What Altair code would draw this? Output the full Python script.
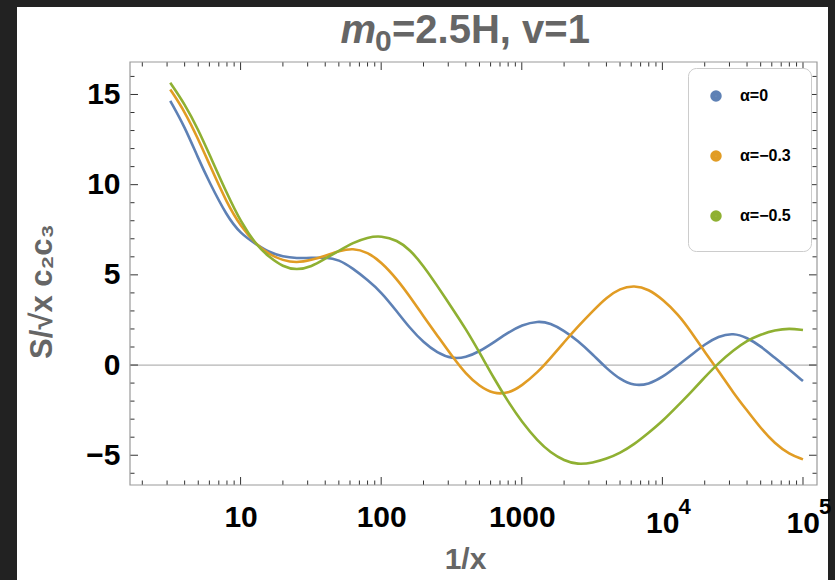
import altair as alt
import pandas as pd

# 1/x sample points and the three S / (sqrt(x) c2 c3) curves
inv_x = [3.16, 4, 5, 6, 8, 10, 13, 16, 20, 25, 32, 40, 50, 63, 80, 100, 130, 160,
         200, 250, 320, 400, 500, 630, 800, 1000, 1300, 1600, 2000, 2500, 3200,
         4000, 5000, 6300, 8000, 10000, 13000, 16000, 20000, 25000, 32000, 40000,
         50000, 63000, 80000, 100000]

alpha_0 = [14.65, 13.22, 11.45, 10.13, 8.25, 7.28, 6.68, 6.25, 6.0, 5.92, 5.94, 5.97,
           5.85, 5.35, 4.72, 4.05, 2.95, 2.05, 1.25, 0.68, 0.34, 0.42, 0.75, 1.25,
           1.8, 2.22, 2.45, 2.32, 1.9, 1.35, 0.58, -0.18, -0.8, -1.15, -1.07,
           -0.68, 0.0, 0.55, 1.15, 1.6, 1.78, 1.52, 1.05, 0.4, -0.25, -0.89]

alpha_m03 = [15.28, 14.07, 12.52, 11.13, 8.97, 7.7, 6.66, 6.12, 5.8, 5.66, 5.82,
             6.05, 6.32, 6.49, 6.25, 5.72, 4.75, 3.8, 2.7, 1.65, 0.48, -0.5, -1.18,
             -1.6, -1.58, -1.15, -0.4, 0.38, 1.27, 2.13, 3.0, 3.75, 4.25, 4.42,
             4.2, 3.65, 2.8, 1.85, 0.72, -0.3, -1.55, -2.52, -3.5, -4.35, -4.95,
             -5.23]

alpha_m05 = [15.65, 14.48, 13.05, 11.68, 9.5, 7.95, 6.62, 5.98, 5.45, 5.26, 5.45,
             5.9, 6.33, 6.78, 7.08, 7.17, 6.92, 6.4, 5.5, 4.4, 3.15, 2.0, 0.7,
             -0.7, -2.04, -3.15, -4.22, -4.85, -5.3, -5.52, -5.42, -5.2, -4.88,
             -4.4, -3.75, -3.12, -2.22, -1.5, -0.68, 0.1, 0.82, 1.35, 1.7, 1.93,
             2.04, 1.94]

series_names = ["α=0", "α=−0.3", "α=−0.5"]
series_colors = ["#5E81B5", "#E19C24", "#8FB032"]

# frame tick positions
y_major = [-5, 0, 5, 10, 15]
y_minor = [-6, -4, -3, -2, -1, 1, 2, 3, 4, 6, 7, 8, 9, 11, 12, 13, 14, 16]
x_major = [10, 100, 1000, 10000, 100000]
x_minor = [m * 10 ** e for e in range(0, 5) for m in range(2, 10)]

# power-of-ten labels written as base + exponent
pow_values = [10000, 100000]
pow_base = ["10", "10"]
pow_exp = ["4", "5"]

W, H = 687, 423
FONT = "Liberation Sans"
GRAY = "#666666"
TICK = "#333333"

rows = []
for name, vals in zip(series_names, [alpha_0, alpha_m03, alpha_m05]):
    for xv, yv in zip(inv_x, vals):
        rows.append({"inv_x": xv, "value": yv, "series": name})
curves = pd.DataFrame(rows)

one = pd.DataFrame({"k": [0]})
ymaj = pd.DataFrame({"value": y_major})
ymin = pd.DataFrame({"value": y_minor})
xmaj = pd.DataFrame({"inv_x": x_major})
xmin = pd.DataFrame({"inv_x": x_minor})
pows = pd.DataFrame({"inv_x": pow_values, "base": pow_base, "exp": pow_exp})

xscale = alt.Scale(type="log", domain=[1.635, 125800], nice=False)
yscale = alt.Scale(domain=[-6.65, 16.8], nice=False, zero=False)

x_axis = alt.Axis(
    values=x_major, format="d",
    labelExpr="datum.value >= 10000 ? '' : datum.label",
    labelFont=FONT, labelFontSize=30, labelFontWeight="bold", labelColor="black",
    labelPadding=17, labelFlush=False, labelOverlap=False,
    ticks=False, domain=False, grid=False,
    title="1/x", titleFont=FONT, titleFontSize=30, titleFontWeight="bold",
    titleColor=GRAY, titlePadding=12, titleX=335, zindex=1,
)
y_axis = alt.Axis(
    values=y_major,
    labelFont=FONT, labelFontSize=30, labelFontWeight="bold", labelColor="black",
    labelPadding=10, ticks=False, domain=False, grid=False,
    title="S/√x c₂c₃", titleFont=FONT, titleFontSize=31, titleFontWeight="bold",
    titleColor=GRAY, titlePadding=27, titleY=229, zindex=1,
)

panel = alt.Chart(one).mark_rect(color="white").encode(
    x=alt.value(-113), x2=alt.value(698), y=alt.value(-55), y2=alt.value(530)
)

zero_line = alt.Chart(one).mark_rule(color="#b4b4b4", strokeWidth=1.2).encode(
    y=alt.datum(0, scale=yscale)
)


def y_ticks(df, length):
    left = alt.Chart(df).mark_rule(color=TICK, strokeWidth=1).encode(
        y=alt.Y("value:Q", scale=yscale), x=alt.value(0), x2=alt.value(length)
    )
    right = alt.Chart(df).mark_rule(color=TICK, strokeWidth=1).encode(
        y=alt.Y("value:Q", scale=yscale), x=alt.value(W), x2=alt.value(W - length)
    )
    return [left, right]


def x_ticks(df, length):
    top = alt.Chart(df).mark_rule(color=TICK, strokeWidth=1).encode(
        x=alt.X("inv_x:Q", scale=xscale), y=alt.value(0), y2=alt.value(length)
    )
    bottom = alt.Chart(df).mark_rule(color=TICK, strokeWidth=1).encode(
        x=alt.X("inv_x:Q", scale=xscale), y=alt.value(H), y2=alt.value(H - length)
    )
    return [top, bottom]


frame = alt.Chart(one).mark_rect(fillOpacity=0, stroke="#9a9a9a", strokeWidth=1.2).encode(
    x=alt.value(0), x2=alt.value(W), y=alt.value(0), y2=alt.value(H)
)

pow_base_text = alt.Chart(pows).mark_text(
    font=FONT, fontSize=30, fontWeight="bold", color="black",
    align="right", baseline="alphabetic", dx=17,
).encode(x=alt.X("inv_x:Q", scale=xscale), y=alt.value(H + 48), text="base:N")

pow_exp_text = alt.Chart(pows).mark_text(
    font=FONT, fontSize=22, fontWeight="bold", color="black",
    align="left", baseline="alphabetic", dx=16,
).encode(x=alt.X("inv_x:Q", scale=xscale), y=alt.value(H + 29), text="exp:N")

# plot title: italic m with a lowered 0, then the rest of the label
title_m = alt.Chart(one).mark_text(
    text="m", font=FONT, fontSize=40, fontWeight="bold", fontStyle="italic",
    color=GRAY, align="right", baseline="alphabetic",
).encode(x=alt.value(246), y=alt.value(-18.7))
title_sub = alt.Chart(one).mark_text(
    text="0", font=FONT, fontSize=30, fontWeight="bold",
    color=GRAY, align="left", baseline="alphabetic",
).encode(x=alt.value(245), y=alt.value(-11.3))
title_rest = alt.Chart(one).mark_text(
    text="=2.5H, v=1", font=FONT, fontSize=40, fontWeight="bold",
    color=GRAY, align="left", baseline="alphabetic",
).encode(x=alt.value(262), y=alt.value(-18.7))

lines = alt.Chart(curves).mark_line(strokeWidth=2.6, interpolate="basis").encode(
    x=alt.X("inv_x:Q", scale=xscale, axis=x_axis),
    y=alt.Y("value:Q", scale=yscale, axis=y_axis),
    color=alt.Color(
        "series:N",
        scale=alt.Scale(domain=series_names, range=series_colors),
        sort=series_names,
        legend=alt.Legend(
            title=None, orient="none", legendX=558, legendY=6,
            symbolType="circle", symbolSize=30, symbolStrokeWidth=6,
            labelFont=FONT, labelFontSize=16, labelFontWeight="bold",
            labelColor="black", labelOffset=16, padding=20, rowPadding=30,
            strokeColor="#cccccc", cornerRadius=8, fillColor="white", zindex=1,
        ),
    ),
)

layers = [panel, zero_line]
layers += y_ticks(ymaj, 8) + y_ticks(ymin, 4.5)
layers += x_ticks(xmaj, 8) + x_ticks(xmin, 4.5)
layers += [frame, pow_base_text, pow_exp_text, title_m, title_sub, title_rest, lines]

chart = alt.layer(*layers).properties(
    width=W,
    height=H,
    padding={"left": 130, "top": 62, "right": 18, "bottom": 95},
    autosize=alt.AutoSizeParams(type="none"),
    background="#222222",
).configure_view(strokeWidth=0)

chart.save("out.html", embed_options={"renderer": "svg", "actions": False})
